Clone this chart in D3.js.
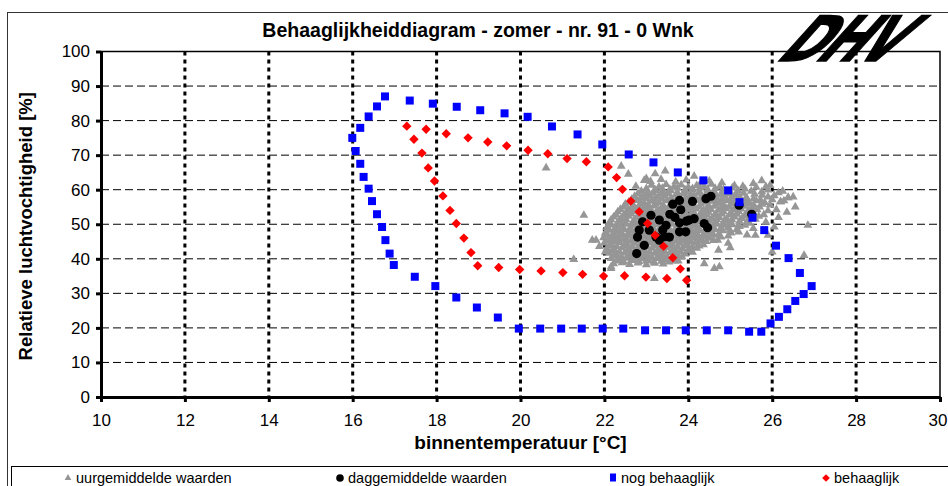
<!DOCTYPE html>
<html>
<head>
<meta charset="utf-8">
<script src="https://cdn.jsdelivr.net/npm/d3@7"></script>
<style>
  body { margin: 0; background: #fff; }
  svg { display: block; font-family: Arial, "Liberation Sans", sans-serif; }
</style>
</head>
<body>
<svg id="chart" width="948" height="486"></svg>
<script>
// ---- data ----
const xTicks = [10, 12, 14, 16, 18, 20, 22, 24, 26, 28, 30];
const yTicks = [0, 10, 20, 30, 40, 50, 60, 70, 80, 90, 100];
const seriesNames = ['uurgemiddelde waarden', 'daggemiddelde waarden', 'nog behaaglijk', 'behaaglijk'];

// [binnentemperatuur, RV]
const nogBehaaglijk = [
  [15.99,75.0],[16.07,71.2],[16.18,67.5],[16.26,63.7],[16.38,60.3],[16.46,56.7],[16.58,52.9],[16.70,49.2],
  [16.78,45.4],[16.88,41.5],[16.98,38.2],[17.48,34.8],[17.97,32.1],[18.47,28.8],[18.96,25.9],[19.46,23.0],
  [19.96,19.8],[20.47,19.8],[20.97,19.8],[21.46,19.8],[21.96,19.8],[22.45,19.8],[22.97,19.3],[23.47,19.3],
  [23.94,19.3],[24.44,19.3],[24.95,19.3],[25.45,18.9],[25.74,18.9],[25.96,21.3],[26.16,23.2],[26.36,25.4],
  [26.55,27.8],[26.75,29.8],[26.94,32.1],[26.66,35.9],[26.39,40.2],[26.09,43.8],[25.81,48.3],[25.53,51.9],
  [25.22,56.4],[24.95,59.8],[24.36,62.7],[23.75,65.0],[23.17,67.9],[22.58,70.2],[21.95,73.1],[21.36,76.0],
  [20.75,78.3],[20.17,81.1],[19.62,82.1],[19.04,83.0],[18.48,84.0],[17.91,84.9],[17.36,85.8],[16.77,87.0],
  [16.58,84.1],[16.38,81.2],[16.18,77.9]
];

const behaaglijk = [
  [17.29,78.4],[17.75,77.5],[18.23,76.2],[18.75,75.0],[19.22,73.8],[19.67,72.7],[20.18,71.4],[20.65,70.4],
  [21.11,69.0],[21.57,68.1],[22.09,66.6],[22.29,63.5],[22.43,60.1],[22.63,56.7],[22.83,53.6],[23.03,50.2],
  [23.21,46.8],[23.41,43.6],[23.63,40.3],[23.81,37.1],[23.96,33.8],[23.49,34.3],[22.99,34.7],[22.48,35.1],
  [21.98,35.0],[21.48,35.5],[21.01,36.0],[20.49,36.5],[19.98,36.9],[19.48,37.5],[18.98,38.0],[18.82,41.8],
  [18.65,46.0],[18.47,50.2],[18.32,54.0],[18.15,58.2],[17.95,62.5],[17.80,66.3],[17.65,70.6],[17.46,74.6]
];

const daggemiddeld = [
  [23.63,55.8],[23.79,56.9],[24.10,56.6],[23.82,54.2],[23.56,52.9],[23.11,52.6],[22.91,50.7],[23.31,51.2],
  [23.47,49.7],[23.79,50.4],[24.02,51.2],[24.14,51.6],[22.83,48.3],[23.07,48.3],[23.39,48.3],[23.55,46.3],
  [23.79,47.8],[23.94,47.8],[22.79,46.3],[22.95,43.9],[22.77,41.5],[23.31,45.4],[24.38,50.2],[24.46,49.0],
  [24.42,57.4],[24.54,58.1],[25.21,55.5],[25.51,52.9],[23.23,46.3],[23.43,46.4],[23.68,52.0],[23.95,50.9]
];

const uurgemiddeld = [
  [23.12,61.3],[23.3,60.8],[23.47,61.5],[23.66,60.9],[23.83,61.4],[24.0,60.7],[24.2,61.2],[24.38,60.9],[24.55,61.6],[24.75,60.8],
  [23.0,60.3],[23.2,60.0],[23.38,60.4],[23.56,60.1],[23.74,60.5],[23.92,60.0],[24.1,60.3],[24.28,60.6],[24.46,60.1],[24.64,60.4],
  [24.84,60.0],[25.05,60.5],[25.35,60.2],[25.62,60.7],[25.85,60.9],
  [22.88,59.6],[23.05,59.1],[23.22,59.8],[23.4,59.3],[23.58,59.7],[23.75,59.0],[23.93,59.5],[24.1,59.9],[24.28,59.2],[24.46,59.6],
  [24.64,59.1],[24.82,59.7],[25.0,59.3],[25.18,59.8],[25.5,59.6],[25.75,59.4],[25.9,59.9],
  [22.8,58.9],[22.98,58.6],[23.16,59.0],[23.34,58.7],[23.52,58.9],[23.7,58.5],[23.88,58.8],[24.06,58.6],[24.24,59.0],[24.42,58.7],
  [24.6,58.9],[24.78,58.5],[24.96,58.8],[25.14,58.6],[25.32,59.0],[25.58,58.7],[25.76,58.4],[26.15,59.1],
  [22.72,58.1],[22.9,57.7],[23.08,58.3],[23.26,57.8],[23.44,58.2],[23.6,57.6],[23.78,58.0],[23.96,57.7],[24.14,58.3],[24.32,57.9],
  [24.5,58.1],[24.68,57.6],[24.86,58.2],[25.04,57.8],[25.22,58.0],[25.4,57.5],[25.9,57.9],[26.05,58.3],[26.38,57.7],
  [22.65,57.2],[22.83,57.0],[23.01,57.4],[23.19,57.1],[23.37,57.3],[23.55,56.9],[23.73,57.2],[23.91,57.0],[24.09,57.4],[24.27,57.1],
  [24.45,57.3],[24.63,56.9],[24.81,57.2],[24.99,57.0],[25.17,57.4],[25.35,57.1],[25.55,57.3],[25.72,57.0],[26.0,57.1],[26.28,56.8],
  [22.58,56.4],[22.76,56.9],[22.94,56.2],[23.12,56.7],[23.3,56.3],[23.48,56.8],[23.66,56.1],[23.84,56.6],[24.02,56.2],[24.2,56.9],
  [24.38,56.4],[24.56,56.7],[24.74,56.2],[24.92,56.8],[25.1,56.3],[25.28,56.6],[25.46,56.1],[25.62,56.8],[25.82,56.3],[26.2,56.5],
  [22.5,55.8],[22.68,55.6],[22.86,56.0],[23.04,55.7],[23.22,55.9],[23.4,55.5],[23.58,55.8],[23.76,55.6],[23.94,56.0],[24.12,55.7],
  [24.3,55.9],[24.48,55.5],[24.66,55.8],[24.84,55.6],[25.02,56.0],[25.2,55.7],[25.38,55.9],[25.56,55.5],[25.76,55.8],[25.95,55.6],
  [22.46,55.0],[22.64,54.6],[22.82,55.2],[23.0,54.8],[23.18,55.3],[23.36,54.7],[23.54,55.1],[23.72,54.6],[23.9,55.2],[24.08,54.8],
  [24.26,55.0],[24.44,54.5],[24.62,55.2],[24.8,54.7],[24.98,55.1],[25.16,54.6],[25.34,55.2],[25.52,54.8],[25.7,55.0],[26.1,54.2],
  [22.38,54.3],[22.56,54.1],[22.74,54.5],[22.92,54.2],[23.1,54.4],[23.28,54.0],[23.46,54.3],[23.64,54.1],[23.82,54.5],[24.0,54.2],
  [24.18,54.4],[24.36,54.0],[24.54,54.3],[24.72,54.1],[24.9,54.5],[25.08,54.2],[25.26,54.4],[25.44,54.0],[25.64,54.2],[25.9,53.9],
  [22.32,53.6],[22.5,53.1],[22.68,53.7],[22.86,53.2],[23.04,53.8],[23.22,53.3],[23.4,53.5],[23.58,53.0],[23.76,53.6],[23.94,53.2],
  [24.12,53.7],[24.3,53.1],[24.48,53.5],[24.66,53.0],[24.84,53.6],[25.02,53.2],[25.2,53.7],[25.38,53.1],[25.55,53.4],[25.8,52.8],
  [22.28,52.8],[22.46,52.6],[22.64,53.0],[22.82,52.7],[23.0,52.9],[23.18,52.5],[23.36,52.8],[23.54,52.6],[23.72,53.0],[23.9,52.7],
  [24.08,52.9],[24.26,52.5],[24.44,52.8],[24.62,52.6],[24.8,53.0],[24.98,52.7],[25.16,52.9],[25.34,52.4],[25.5,52.7],[25.68,52.3],
  [22.22,52.1],[22.4,51.7],[22.58,52.3],[22.76,51.8],[22.94,52.2],[23.12,51.6],[23.3,52.0],[23.48,51.7],[23.66,52.3],[23.84,51.8],
  [24.02,52.1],[24.2,51.6],[24.38,52.2],[24.56,51.7],[24.74,52.0],[24.92,51.5],[25.1,52.1],[25.28,51.7],[25.6,51.5],
  [22.16,51.3],[22.34,51.0],[22.52,51.4],[22.7,51.1],[22.88,51.3],[23.06,50.9],[23.24,51.2],[23.42,51.0],[23.6,51.4],[23.78,51.1],
  [23.96,51.3],[24.14,50.9],[24.32,51.2],[24.5,51.0],[24.68,51.4],[24.86,51.1],[25.04,51.3],[25.22,50.9],[25.42,51.2],
  [22.12,50.5],[22.3,50.1],[22.48,50.7],[22.66,50.2],[22.84,50.6],[23.02,50.0],[23.2,50.5],[23.38,50.2],[23.56,50.8],[23.74,50.3],
  [23.92,50.6],[24.1,50.1],[24.28,50.7],[24.46,50.2],[24.64,50.5],[24.82,50.0],[25.0,50.4],[25.2,49.9],[25.45,50.3],
  [22.17,49.8],[22.35,49.6],[22.53,50.0],[22.71,49.7],[22.89,49.9],[23.07,49.5],[23.25,49.8],[23.43,49.6],[23.61,50.0],[23.79,49.7],
  [23.97,49.9],[24.15,49.5],[24.33,49.8],[24.51,49.6],[24.69,50.0],[24.87,49.7],[25.05,49.9],[25.22,49.4],[25.35,49.7],
  [22.06,49.1],[22.24,48.6],[22.42,49.2],[22.6,48.7],[22.78,49.0],[22.96,48.5],[23.14,49.2],[23.32,48.8],[23.5,49.1],[23.68,48.6],
  [23.86,49.2],[24.04,48.7],[24.22,49.0],[24.4,48.5],[24.58,49.1],[24.76,48.6],[24.94,48.9],[25.15,48.4],[25.55,48.8],
  [22.12,48.3],[22.3,48.0],[22.48,48.4],[22.66,48.1],[22.84,48.3],[23.02,47.9],[23.2,48.2],[23.38,48.0],[23.56,48.4],[23.74,48.1],
  [23.92,48.3],[24.1,47.9],[24.28,48.2],[24.46,48.0],[24.64,48.4],[24.82,48.1],[24.99,48.3],[25.2,47.8],
  [22.02,47.5],[22.2,47.1],[22.38,47.7],[22.56,47.2],[22.74,47.6],[22.92,47.0],[23.1,47.5],[23.28,47.1],[23.46,47.7],[23.64,47.2],
  [23.82,47.6],[24.0,47.0],[24.18,47.4],[24.36,47.1],[24.54,47.6],[24.72,47.0],[25.02,47.5],[25.4,46.9],
  [22.08,46.8],[22.26,46.5],[22.44,46.9],[22.62,46.6],[22.8,46.8],[22.98,46.4],[23.16,46.7],[23.34,46.5],[23.52,46.9],[23.7,46.6],
  [23.88,46.8],[24.06,46.4],[24.24,46.7],[24.42,46.5],[24.6,46.9],[24.78,46.3],[24.95,46.6],
  [21.98,46.1],[22.16,45.6],[22.34,46.2],[22.52,45.7],[22.7,46.0],[22.88,45.5],[23.06,46.1],[23.24,45.6],[23.42,46.2],[23.6,45.7],
  [23.78,46.0],[23.96,45.5],[24.14,46.1],[24.32,45.6],[24.5,46.0],[24.7,45.4],
  [22.09,45.3],[22.27,45.0],[22.45,45.4],[22.63,45.1],[22.81,45.3],[22.99,44.9],[23.17,45.2],[23.35,45.0],[23.53,45.4],[23.71,45.1],
  [23.89,45.3],[24.07,44.9],[24.25,45.2],[24.43,45.0],[24.6,45.3],
  [22.0,44.6],[22.18,44.1],[22.36,44.7],[22.54,44.2],[22.72,44.5],[22.9,44.0],[23.08,44.6],[23.26,44.1],[23.44,44.7],[23.62,44.2],
  [23.8,44.5],[23.98,44.0],[24.16,44.6],[24.36,44.1],
  [22.12,43.8],[22.3,43.5],[22.48,43.9],[22.66,43.6],[22.84,43.8],[23.02,43.4],[23.2,43.7],[23.38,43.5],[23.56,43.9],[23.74,43.6],
  [23.92,43.8],[24.1,43.4],[24.26,43.7],
  [22.06,43.0],[22.24,42.6],[22.42,43.2],[22.6,42.7],[22.78,43.0],[22.96,42.5],[23.14,43.1],[23.32,42.6],[23.5,43.2],[23.68,42.7],
  [23.86,43.0],[24.04,42.5],[24.2,43.1],
  [22.18,42.3],[22.36,42.0],[22.54,42.4],[22.72,42.1],[22.9,42.3],[23.08,41.9],[23.26,42.2],[23.44,42.0],[23.62,42.4],[23.8,42.1],
  [23.98,42.3],[24.1,41.9],
  [22.12,41.6],[22.3,41.1],[22.48,41.7],[22.66,41.2],[22.84,41.5],[23.02,41.0],[23.2,41.6],[23.38,41.1],[23.56,41.7],[23.74,41.2],[23.92,41.4],
  [22.23,40.8],[22.41,40.5],[22.59,40.9],[22.77,40.6],[22.95,40.8],[23.13,40.4],[23.31,40.7],[23.49,40.5],[23.67,40.9],[23.85,40.6],
  [22.16,40.1],[22.34,39.6],[22.52,40.2],[22.7,39.7],[22.88,40.0],[23.06,39.5],[23.24,40.1],[23.42,39.6],[23.6,40.0],[23.76,39.4],
  [22.28,39.4],[22.46,39.1],[22.64,39.5],[22.82,39.2],[23.0,39.4],[23.18,39.0],[23.36,39.3],[23.54,39.1],[23.68,39.4],
  [22.22,38.6],[22.42,38.9],[22.6,38.4],[22.8,38.8],[23.0,38.3],[23.2,38.7],[23.4,38.5],
  // losse punten
  [20.61,66.3],[22.4,66.8],[22.95,62.7],[23.21,64.6],[23.45,65.4],[24.14,63.9],[25.75,62.6],[25.55,61.8],[26.2,56.5],[26.38,57.7],
  [26.85,49.7],[26.76,41.0],[26.0,42.0],[21.51,52.6],[21.71,45.4],[21.88,43.6],[22.02,42.0],[22.16,37.7],[24.62,37.2],[24.74,37.7],
  [24.38,38.6],[23.19,34.3],[21.27,39.8],[22.16,37.2],[22.57,64.5],[23.0,63.2],[24.5,62.5],[24.8,62.0],[25.3,61.0],[26.55,55.0],
  [25.9,46.8],[25.6,46.8],[24.95,44.5],[24.72,42.5],[25.0,43.2],[21.8,45.4],
  [23.1,62.4],[23.35,63.0],[23.7,62.3],[23.95,62.8],[24.3,62.0],[22.75,61.0],[25.1,61.2],[25.95,61.3],[26.25,59.6],[26.5,57.9],
  [26.35,53.5],[26.15,52.0],[25.85,50.6],[26.05,49.2]
];

// ---- layout ----
const W = 948, H = 486;
const plot = { left: 101, right: 940, top: 51.5, bottom: 397 };

const svg = d3.select('#chart');

const x = d3.scaleLinear().domain([10, 30]).range([plot.left, plot.right]);
const y = d3.scaleLinear().domain([0, 100]).range([plot.bottom, plot.top]);

// outer chart frame
svg.append('rect')
    .attr('x', 7.5).attr('y', 12.5)
    .attr('width', W + 20).attr('height', H + 20)
    .attr('fill', '#fff').attr('stroke', '#333').attr('stroke-width', 1);

// title
svg.append('text')
    .attr('x', 478).attr('y', 37)
    .attr('text-anchor', 'middle')
    .attr('font-size', 19.5).attr('font-weight', 'bold')
    .text('Behaaglijkheiddiagram - zomer - nr. 91 - 0 Wnk');

// logo
svg.append('text')
    .attr('transform', 'translate(774,61) skewX(-42) scale(1,1.25)')
    .attr('font-family', '"DejaVu Sans", sans-serif')
    .attr('font-size', 50).attr('font-weight', 'bold')
    .attr('letter-spacing', -3)
    .attr('stroke', '#000').attr('stroke-width', 1.2)
    .text('DHV');

// gridlines
svg.append('g')
    .selectAll('line')
    .data(yTicks.filter(v => v > 0 && v < 100))
    .join('line')
    .attr('x1', plot.left).attr('x2', plot.right)
    .attr('y1', d => y(d)).attr('y2', d => y(d))
    .attr('stroke', '#000').attr('stroke-width', 1)
    .attr('stroke-dasharray', '8,4');

svg.append('g')
    .selectAll('line')
    .data(xTicks.filter(v => v > 10 && v < 30))
    .join('line')
    .attr('x1', d => x(d)).attr('x2', d => x(d))
    .attr('y1', plot.top).attr('y2', plot.bottom)
    .attr('stroke', '#000').attr('stroke-width', 3)
    .attr('stroke-dasharray', '4,4');

// top and right border of plot area
svg.append('path')
    .attr('d', `M${plot.left},${plot.top}H${plot.right}V${plot.bottom}`)
    .attr('fill', 'none').attr('stroke', '#000').attr('stroke-width', 1.5);

// axes
const xAxis = svg.append('g')
    .attr('transform', `translate(0,${plot.bottom})`)
    .call(d3.axisBottom(x).tickValues(xTicks).tickSize(5).tickSizeOuter(0).tickPadding(12));
const yAxis = svg.append('g')
    .attr('transform', `translate(${plot.left},0)`)
    .call(d3.axisLeft(y).tickValues(yTicks).tickSize(5).tickSizeOuter(0).tickPadding(6));

[xAxis, yAxis].forEach(a => {
    a.select('.domain').attr('stroke', '#000').attr('stroke-width', 3);
    a.selectAll('.tick line').attr('stroke', '#000').attr('stroke-width', 3);
    a.selectAll('.tick text')
        .attr('font-size', 17)
        .attr('font-family', 'Arial, "Liberation Sans", sans-serif')
        .attr('fill', '#000');
});
// last label sits against the right edge of the picture
xAxis.selectAll('.tick text').filter(d => d === 30)
    .attr('text-anchor', 'end').attr('x', 7);

// axis titles
svg.append('text')
    .attr('x', x(20)).attr('y', 449)
    .attr('text-anchor', 'middle')
    .attr('font-size', 19).attr('font-weight', 'bold')
    .text('binnentemperatuur [°C]');

svg.append('text')
    .attr('transform', `translate(32,${(plot.top + plot.bottom) / 2 + 2}) rotate(-90)`)
    .attr('text-anchor', 'middle')
    .attr('font-size', 18.5).attr('font-weight', 'bold')
    .text('Relatieve luchtvochtigheid [%]');

// markers
const tri = d3.symbol().type(d3.symbolTriangle).size(34);
const sq = d3.symbol().type(d3.symbolSquare).size(64);
const dia = d3.symbol().type(d3.symbolSquare).size(44);

svg.append('g').selectAll('path')
    .data(uurgemiddeld)
    .join('path')
    .attr('d', tri)
    .attr('transform', d => `translate(${x(d[0])},${y(d[1])})`)
    .attr('fill', '#969696');

svg.append('g').selectAll('circle')
    .data(daggemiddeld)
    .join('circle')
    .attr('cx', d => x(d[0])).attr('cy', d => y(d[1]))
    .attr('r', 4.6)
    .attr('fill', '#000');

svg.append('g').selectAll('path')
    .data(nogBehaaglijk)
    .join('path')
    .attr('d', sq)
    .attr('transform', d => `translate(${x(d[0])},${y(d[1])})`)
    .attr('fill', '#0000ff');

svg.append('g').selectAll('path')
    .data(behaaglijk)
    .join('path')
    .attr('d', dia)
    .attr('transform', d => `translate(${x(d[0])},${y(d[1])}) rotate(45)`)
    .attr('fill', '#ff0000');

// legend
svg.append('rect')
    .attr('x', 11.5).attr('y', 466.5)
    .attr('width', W).attr('height', 40)
    .attr('fill', '#fff').attr('stroke', '#000').attr('stroke-width', 1);

const legendPos = [68, 340, 613, 826];
const legend = svg.append('g').selectAll('g')
    .data(seriesNames)
    .join('g')
    .attr('transform', (d, i) => `translate(${legendPos[i]},478)`);

legend.each(function(d, i) {
    const g = d3.select(this);
    if (i === 0) g.append('path').attr('d', d3.symbol().type(d3.symbolTriangle).size(20)).attr('fill', '#969696');
    if (i === 1) g.append('circle').attr('r', 3.8).attr('fill', '#000');
    if (i === 2) g.append('rect').attr('x', -3).attr('y', -4.5).attr('width', 6).attr('height', 8).attr('fill', '#0000ff');
    if (i === 3) g.append('path').attr('d', d3.symbol().type(d3.symbolSquare).size(30)).attr('transform', 'rotate(45)').attr('fill', '#ff0000');
});

legend.append('text')
    .attr('x', 8).attr('y', 5)
    .attr('font-size', 14.5)
    .text(d => d);
</script>
</body>
</html>
